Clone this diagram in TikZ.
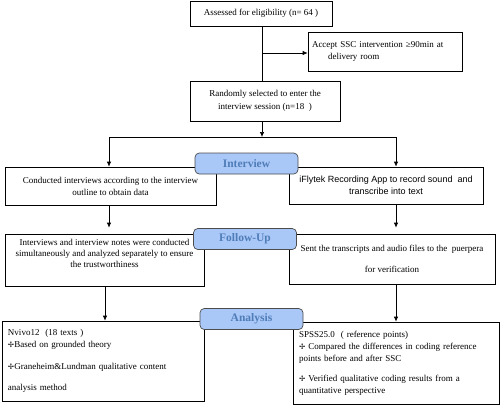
\documentclass[tikz,border=0pt]{standalone}
\usepackage{fontspec}
\setmainfont{Liberation Serif}
\newfontfamily\arialfont{Liberation Sans}
\newfontfamily\dejavu{DejaVu Sans}
\usepackage{tikz}
\usetikzlibrary{shapes.geometric, arrows.meta}
\definecolor{tagfill}{HTML}{A9C7F7}
\definecolor{tagtext}{HTML}{4F7DB8}
\newcommand{\plusmark}{{\dejavu\fontsize{7.5}{9}\selectfont ✢}}

\begin{document}
\begin{tikzpicture}[x=1pt, y=-1pt, line width = 0.7pt, >={Latex[length=5pt, width=4.5pt]},
    box/.style = {draw, inner sep = 2, font = \fontsize{9}{12}\selectfont},
    tag/.style = {draw = black!70, fill = tagfill, rounded corners = 1.5mm, text = tagtext,
        minimum width = 103, minimum height = 21, font = \fontsize{11.5}{13}\selectfont\bfseries}]
\useasboundingbox (0,0) rectangle (500,405);

\node[box, minimum width = 142, minimum height = 25] at (261,13.5) (assess){Assessed for eligibility (n= 64 )};
\node[box, minimum width = 154, minimum height = 39, text width = 146, align = left] at (385,51.5) (accept){Accept SSC intervention ≥90min at\\\hspace*{16pt}delivery room};
\node[box, minimum width = 150, minimum height = 40, align = center, font = \fontsize{9}{13}\selectfont] at (265,101) (random){Randomly selected to enter the\\interview session (n=18\ \ )};
\coordinate (split) at (262,53);
\coordinate (fork) at (262,137);
\coordinate (forkl) at (109,137);
\coordinate (forkr) at (396,137);
\coordinate (lane) at (105,300);
\path[-,draw]
    (assess.south -| split) -- (random.north -| split)
    (forkl) -- (forkr);
\path[->]
    (split) edge (split -| accept.west)
    (random.south -| fork) edge (fork);

\node[box, minimum width = 211, minimum height = 38, align = center] at (110.5,186) (conduct){Conducted interviews according to the interview\\outline to obtain data};
\node[box, minimum width = 194, minimum height = 37, align = center, font = \arialfont\fontsize{9}{12}\selectfont] at (386,185.5) (iflytek){iFlytek Recording App to record sound\ \ and\\transcribe into text};
\path[->]
    (forkl) edge (conduct.north -| forkl)
    (forkr) edge (iflytek.north -| forkr);

\node[box, minimum width = 199, minimum height = 52, align = center, font = \fontsize{9}{11}\selectfont] at (104.5,260) (notes){Interviews and interview notes were conducted\\simultaneously and analyzed separately to ensure\\the trustworthiness\\[3pt]};
\node[box, minimum width = 206, minimum height = 50, align = center, font = \fontsize{9}{21}\selectfont] at (392,259) (sent){Sent the transcripts and audio files to the\ \ puerpera\\for verification};
\path[->, shorten >= 6pt]
    (conduct.south -| forkl) edge (notes.north -| forkl)
    (iflytek.south -| forkr) edge (sent.north -| forkr);

\node[box, inner xsep = 5, minimum width = 202, minimum height = 80, text width = 190, align = left] at (103,361) (nvivo){Nvivo12\ \ (18 texts )\\\plusmark Based on grounded theory\\[10pt]\plusmark Graneheim\&Lundman qualitative content\\[9pt]analysis method};
\node[box, inner xsep = 5, minimum width = 206, minimum height = 82, text width = 194, align = left] at (396,363) (spss){SPSS25.0\ \ ( reference points)\\\plusmark\ Compared the differences in coding reference\\points before and after SSC\\[8pt]\plusmark\ Verified qualitative coding results from a\\quantitative perspective};
\path[->]
    (notes.south -| lane) edge (nvivo.north -| lane)
    (sent.south -| forkr) edge (spss.north -| forkr);

\node[tag] at (246.5,163.5) (interview){Interview};
\node[tag] at (245,239) (followup){Follow-Up};
\node[tag] at (251.5,319) (analysis){Analysis};

\end{tikzpicture}
\end{document}
